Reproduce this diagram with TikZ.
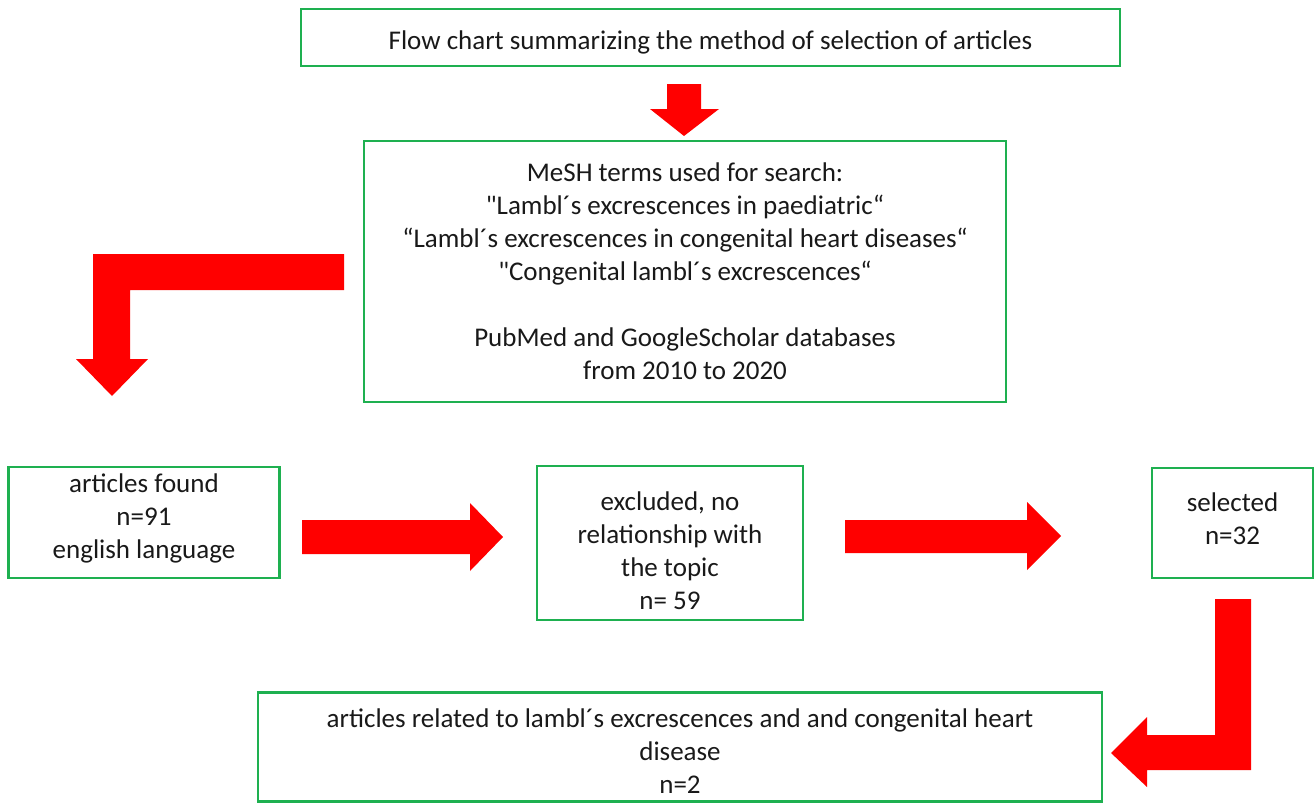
\documentclass[tikz,border=0pt]{standalone}
\usepackage{fontspec}
\setmainfont{Carlito}[Ligatures=TeXOff]
\definecolor{boxgreen}{RGB}{30,176,80}
\definecolor{arrred}{RGB}{255,0,0}
\definecolor{txt}{RGB}{25,25,25}
\tikzset{
  box/.style={draw=boxgreen, line width=2.5pt, rectangle, inner sep=0pt},
  lbl/.style={text=txt, align=center, inner sep=0pt, font=\fontsize{27}{33}\selectfont},
  blockarrow/.style={fill=arrred, draw=none}
}
\begin{document}
\begin{tikzpicture}[x=1pt,y=-1pt]
\useasboundingbox (0,0) rectangle (1315,803);
% boxes
\node[box, minimum width=819pt, minimum height=57pt] (top) at (710.5,37.5) {};
\node[lbl] (topt) at (710.5,42) {Flow chart summarizing the method of selection of articles};
\node[box, minimum width=642pt, minimum height=261pt] (mesh) at (685,271.5) {};
\node[lbl] (mesht) at (685,271.5)
  {MeSH terms used for search:\\
   "Lambl´s excrescences in paediatric“\\
   “Lambl´s excrescences in congenital heart diseases“\\
   "Congenital lambl´s excrescences“\\[33pt]
   PubMed and GoogleScholar databases\\
   from 2010 to 2020};
\node[box, minimum width=271pt, minimum height=111pt] (found) at (144,522.5) {};
\node[lbl] (foundt) at (144,518) {articles found\\ n=91\\ english language};
\node[box, minimum width=266pt, minimum height=154pt] (excl) at (670,543) {};
\node[lbl] (exclt) at (670,550.5) {excluded, no\\ relationship with\\ the topic\\ n= 59};
\node[box, minimum width=161pt, minimum height=110pt] (sel) at (1232.5,523) {};
\node[lbl] (selt) at (1232.5,518.5) {selected\\ n=32};
\node[box, minimum width=844pt, minimum height=109pt] (final) at (680,747) {};
\node[lbl] (finalt) at (680,751) {articles related to lambl´s excrescences and and congenital heart\\ disease\\ n=2};
% block arrows
\fill[blockarrow] (667,84) -- (701,84) -- (701,109) -- (719,109) -- (684,136) -- (650,109) -- (667,109) -- cycle;
\fill[blockarrow] (344,254) -- (344,290) -- (130,290) -- (130,359) -- (148,359) -- (112,396) -- (76,359) -- (93,359) -- (93,254) -- cycle;
\fill[blockarrow] (302,520) -- (470,520) -- (470,503) -- (503,537) -- (470,571) -- (470,554) -- (302,554) -- cycle;
\fill[blockarrow] (845,520) -- (1027,520) -- (1027,502) -- (1061,536) -- (1027,570) -- (1027,553) -- (845,553) -- cycle;
\fill[blockarrow] (1215,599) -- (1251,599) -- (1251,770) -- (1147,770) -- (1147,787) -- (1111,753) -- (1147,717) -- (1147,735) -- (1215,735) -- cycle;
\end{tikzpicture}
\end{document}
